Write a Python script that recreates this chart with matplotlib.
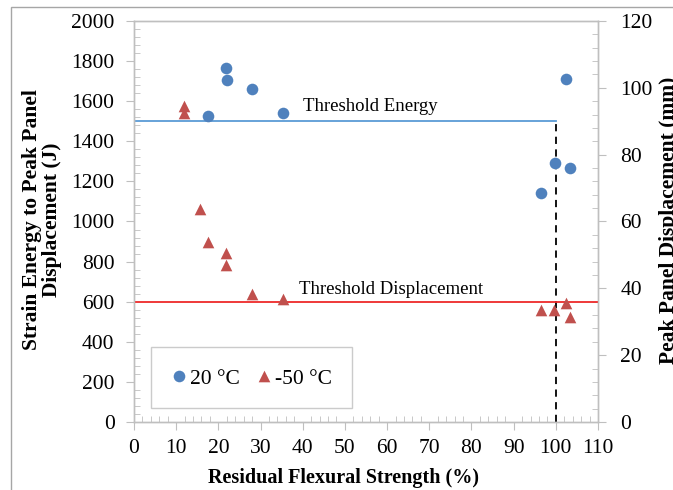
import matplotlib
matplotlib.use("Agg")
import matplotlib.pyplot as plt
from matplotlib.patches import Rectangle
from matplotlib.ticker import MultipleLocator

# Residual flexural strength (%) and strain energy (J) at 20 °C
x_20 = [17.6, 21.8, 22.0, 27.9, 35.3, 96.4, 99.8, 102.4, 103.4]
energy_20 = [1528, 1765, 1706, 1663, 1540, 1144, 1290, 1709, 1265]

# Residual flexural strength (%) and peak panel displacement (mm) at -50 °C
x_m50 = [11.9, 11.9, 15.6, 17.6, 21.8, 21.7, 27.9, 35.3, 96.4, 99.6, 102.4, 103.4]
disp_m50 = [94.6, 92.6, 63.6, 53.8, 50.7, 47.0, 38.3, 36.7, 33.5, 33.5, 35.7, 31.5]

threshold_energy = 1500   # J
threshold_disp = 36       # mm
threshold_strength = 100  # %

plt.rcParams["font.family"] = ["Liberation Serif", "DejaVu Serif"]

W, H = 673, 490
fig = plt.figure(figsize=(W / 100, H / 100), dpi=100)

# outer chart frame
fig.patches.append(Rectangle((11 / W, -0.1), 1.5, 1 - 7 / H + 0.1,
                             transform=fig.transFigure, fill=False,
                             edgecolor="#a6a6a6", linewidth=1.0))

ax = fig.add_axes([134 / W, (H - 422) / H, 464 / W, 401 / H])
ax2 = ax.twinx()

spine_col = "#bfbfbf"
for a in (ax, ax2):
    for s in a.spines.values():
        s.set_color(spine_col)
        s.set_linewidth(1.0)

ax.set_xlim(0, 110)
ax.set_ylim(0, 2000)
ax2.set_ylim(0, 120)

ax.xaxis.set_major_locator(MultipleLocator(10))
ax.xaxis.set_minor_locator(MultipleLocator(2))
ax.yaxis.set_major_locator(MultipleLocator(200))
ax.yaxis.set_minor_locator(MultipleLocator(40))
ax2.yaxis.set_major_locator(MultipleLocator(20))
ax2.yaxis.set_minor_locator(MultipleLocator(4))

ax.tick_params(axis="both", which="major", direction="out", length=6,
               color=spine_col, labelsize=15.5, labelcolor="black")
ax.tick_params(axis="both", which="minor", direction="in", length=4,
               color=spine_col)
ax.tick_params(axis="y", which="major", pad=8)
ax.tick_params(axis="x", which="major", pad=6)
ax2.tick_params(axis="y", which="major", direction="out", length=6,
                color=spine_col, labelsize=15.5, labelcolor="black", pad=10)
ax2.tick_params(axis="y", which="minor", direction="in", length=4,
                color=spine_col)

# threshold lines
ax.plot([0, threshold_strength], [threshold_energy, threshold_energy],
        color="#5b9bd5", linewidth=1.3, zorder=2)
ax2.plot([0, 110], [threshold_disp, threshold_disp],
         color="#ee2a2a", linewidth=1.3, zorder=2)
ax.plot([threshold_strength, threshold_strength], [0, threshold_energy],
        color="black", linewidth=1.3, linestyle=(0, (4, 3)), zorder=2)

ax.text(40, threshold_energy + 30, "Threshold Energy", fontsize=13.5,
        ha="left", va="bottom")
ax2.text(39.2, threshold_disp + 1.2, "Threshold Displacement", fontsize=13.5,
         ha="left", va="bottom")

h1 = ax.scatter(x_20, energy_20, s=70, marker="o", color="#4f81bd",
                linewidths=0, zorder=3, label="20 °C")
h2 = ax2.scatter(x_m50, disp_m50, s=70, marker="^", color="#c0504d",
                 linewidths=0, zorder=3, label="-50 °C")

leg = ax2.legend(handles=[h1, h2], loc="lower left", ncol=2,
                 bbox_to_anchor=(17 / 464, 14 / 401), borderaxespad=0,
                 fontsize=15.5, frameon=True, fancybox=False,
                 borderpad=0.9, handletextpad=0.1, columnspacing=0.75,
                 handlelength=0.8, handleheight=1.1)
leg.get_frame().set_edgecolor("#bfbfbf")
leg.get_frame().set_linewidth(1.0)

ax.set_xlabel("Residual Flexural Strength (%)", fontsize=14.5,
              fontweight="bold")
ax.xaxis.set_label_coords((343 - 134) / 464, -(478 - 422) / 401)
ax.xaxis.label.set_va("center")

fig.text(42 / W, 1 - (220 / H), "Strain Energy to Peak Panel\nDisplacement (J)",
         rotation=90, fontsize=15.5, fontweight="bold", ha="center",
         va="center", multialignment="center", linespacing=1.0)
fig.text(669 / W, 1 - (220 / H), "Peak Panel Displacement (mm)",
         rotation=90, fontsize=15.5, fontweight="bold", ha="center",
         va="center")

fig.savefig("out.png", dpi=100)
